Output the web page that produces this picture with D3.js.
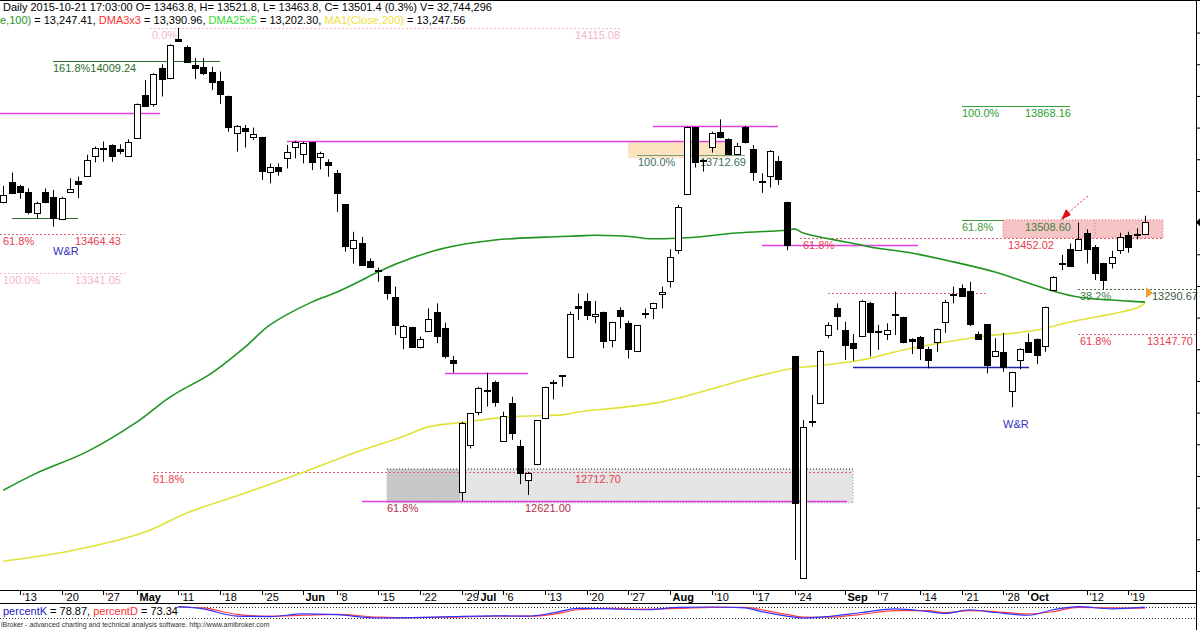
<!DOCTYPE html>
<html><head><meta charset="utf-8">
<script src="https://cdn.jsdelivr.net/npm/d3@7"></script>
<style>body{margin:0;background:#fff}svg{display:block;font-family:"Liberation Sans",Arial,sans-serif}</style>
</head><body>
<svg id="c" width="1200" height="630"></svg>
<script>
// ---------- DATA ----------
const dates = ["04-09","04-10","04-13","04-14","04-15","04-16","04-17","04-20","04-21","04-22","04-23","04-24","04-27","04-28","04-29","04-30",
"05-04","05-05","05-06","05-07","05-08","05-11","05-12","05-13","05-14","05-15","05-18","05-19","05-20","05-21","05-22","05-25","05-26","05-27","05-28","05-29",
"06-01","06-02","06-03","06-05","06-08","06-09","06-10","06-11","06-12","06-15","06-16","06-17","06-18","06-19","06-22","06-23","06-24","06-25","06-26","06-29","06-30",
"07-01","07-02","07-03","07-06","07-07","07-08","07-09","07-10","07-13","07-14","07-15","07-16","07-17","07-20","07-21","07-22","07-23","07-24","07-27","07-28","07-29","07-30","07-31",
"08-03","08-04","08-05","08-06","08-07","08-10","08-11","08-12","08-13","08-14","08-17","08-18","08-19","08-20","08-21","08-24","08-25","08-26","08-27","08-28","08-31",
"09-01","09-02","09-03","09-04","09-07","09-08","09-09","09-10","09-11","09-14","09-15","09-16","09-17","09-18","09-21","09-22","09-23","09-24","09-25","09-28","09-29","09-30",
"10-01","10-02","10-05","10-06","10-07","10-08","10-09","10-12","10-13","10-14","10-15","10-16","10-19","10-20","10-21"];
const open = [13566,13629,13617,13598,13529,13598,13580,13510,13596,13632,13647,13711,13735,13745,13733,13711,13766,13903,13873,13987,13956,14079,14056,13997,13992,13977,13947,13901,13782,13798,13770,13769,13659,13674,13703,13740,
13716,13755,13706,13692,13658,13559,13419,13437,13380,13350,13332,13266,13140,13171,13106,13159,13217,13166,13066,12650,12798,12903,12969,12998,12811,12929,12796,12687,12737,12882,12994,13017,13077,13238,
13253,13205,13219,13129,13224,13182,13096,13212,13229,13274,13316,13413,13590,13801,13697,13738,13787,13763,13717,13803,13731,13630,13647,13694,13566,13079,12377,12871,12931,13145,13229,13161,13121,
13142,13245,13159,13148,13208,13201,13131,13138,13101,13124,13187,13273,13292,13285,13147,13179,13079,13092,12969,13066,13124,13131,13110,13287,13369,13416,13413,13466,13424,13371,13371,13415,13461,13463,13463.8];
const high = [13616,13658,13619,13608,13566,13608,13603,13582,13640,13645,13714,13740,13756,13747,13747,13763,13876,13950,13972,14000,14063,14115,14059,14019,14019,13992,13977,13901,13808,13808,13800,13771,13687,13687,13745,13758,
13755,13755,13724,13700,13666,13559,13471,13455,13387,13358,13332,13298,13177,13171,13140,13229,13245,13184,13079,12871,12898,12982,13026,13001,12903,12950,12814,12713,12876,12982,13003,13019,13219,13276,
13277,13253,13219,13187,13232,13190,13177,13229,13247,13298,13416,13556,13803,13801,13700,13787,13826,13766,13752,13805,13745,13656,13729,13710,13566,13079,12877,12956,13098,13185,13245,13187,13148,
13256,13250,13177,13182,13282,13203,13135,13142,13108,13166,13256,13298,13305,13313,13156,13180,13135,13152,13029,13103,13150,13134,13235,13331,13398,13434,13500,13479,13429,13373,13411,13468,13471,13482,13521.8];
const low = [13561,13590,13575,13526,13514,13561,13487,13508,13594,13577,13645,13690,13692,13692,13716,13710,13764,13867,13866,13898,13953,14071,14006,13953,13966,13919,13875,13787,13724,13737,13761,13635,13624,13648,13671,13703,
13687,13666,13668,13645,13534,13408,13371,13363,13358,13313,13257,13145,13100,13106,13103,13155,13119,13071,13026,12621,12787,12892,12919,12919,12808,12814,12674,12640,12734,12879,12942,12982,13074,13192,
13192,13182,13103,13106,13166,13071,13092,13198,13195,13229,13295,13401,13587,13674,13661,13721,13766,13713,13713,13750,13632,13594,13611,13619,13413,12435,12377,12856,12929,13135,13161,13066,13064,
13140,13077,13098,13129,13145,13119,13085,13066,13040,13092,13152,13245,13266,13173,13129,13024,13077,13029,12917,13037,13089,13053,13092,13285,13350,13361,13411,13371,13319,13289,13355,13401,13405,13447,13463.8];
const close = [13587,13592,13596,13535,13563,13566,13514,13579,13605,13622,13697,13737,13733,13710,13726,13756,13874,13869,13970,13953,14061,14072,14008,13989,13973,13943,13905,13803,13806,13789,13779,13663,13677,13663,13722,13754,
13750,13692,13721,13682,13592,13427,13445,13366,13361,13349,13279,13177,13173,13108,13134,13195,13142,13080,13056,12868,12898,12977,12972,12934,12890,12837,12708,12710,12876,12982,12996,13019,13213,13231,
13208,13212,13127,13185,13205,13101,13177,13214,13247,13282,13392,13548,13803,13690,13695,13784,13769,13716,13743,13753,13661,13628,13726,13638,13429,12614,12856,12873,13096,13177,13205,13113,13103,
13252,13156,13157,13161,13210,13124,13127,13103,13066,13163,13250,13275,13268,13180,13134,13050,13096,13045,13027,13101,13092,13082,13232,13329,13371,13363,13447,13416,13340,13319,13392,13455,13424,13465,13501.4];
// moving averages read at sample bars (bar index 1-based, value)
const emaBars = [1,5,11,17,21,26,30,33,38,41,44,46,50,54,60,66,70,72,77,78,83,89,95,96,97,104,105,110,115,120,124,127,130,136,138];
const emaVals = [12655,12709,12776,12870,12949,13025,13107,13177,13249,13280,13318,13345,13388,13420,13445,13454,13458,13460,13454,13450,13452,13467,13476,13480,13467,13429,13423,13404,13376,13344,13309,13284,13265,13252,13249];
const ma200Bars = [1,9,18,23,29,37,43,49,52,56,62,68,70,80,91,96,98,104,109,117,125,129,137,138];
const ma200Vals = [12431,12463,12523,12583,12637,12712,12772,12825,12855,12869,12887,12893,12902,12934,13012,13041,13046,13066,13098,13135,13161,13186,13230,13246];
// stochastic
const stoBars = [22,25,29,33,37,41,46,50,55,60,64,67,70,74,78,82,86,90,92,95,97,100,104,108,112,114,117,120,124,127,130,134,138];
const percentK = [82,70,30,28,42,38,20,22,28,32,30,48,72,70,65,78,80,75,55,30,20,28,50,70,55,45,65,50,35,65,82,70,78.87];
const percentD = [80,75,40,30,35,40,25,22,25,30,30,40,65,72,68,72,78,78,65,40,25,24,40,60,60,50,60,55,42,55,78,75,73.34];
// axis tick labels
const tickDates = ["04-13","04-20","04-27","05-04","05-11","05-18","05-25","06-01","06-08","06-15","06-22","06-29","07-01","07-06","07-13","07-20","07-27","08-03","08-10","08-17","08-24","09-01","09-07","09-14","09-21","09-28","10-01","10-12","10-19"];
const tickLabels = ["'13","'20","'27","May","'11","'18","'25","Jun","'8","'15","'22","'29","Jul","'6","'13","'20","'27","Aug","'10","'17","'24","Sep","'7","'14","'21","'28","Oct","'12","'19"];
const priceTicks = d3.range(12400, 14200, 100);

// ---------- DRAW ----------
const svg = d3.select("#c");
const bars = dates.map((d,i)=>({d, o:open[i], h:high[i], l:low[i], c:close[i]}));
const x = d3.scalePoint().domain(dates).range([3.3, 1145]);
const y = d3.scaleLinear().domain([12621, 13868.16]).range([501, 106]);
const xb = i => x(dates[i-1]);

const g = svg.append("g");
// --- background annotation shapes (under candles)
g.append("rect").attr("x",387).attr("width",466).attr("y",y(12722)).attr("height",y(12615)-y(12722))
 .attr("fill","#e4e4e4").attr("stroke","#9a9a9a").attr("stroke-dasharray","1,2");
g.append("rect").attr("x",387).attr("width",73).attr("y",y(12722)).attr("height",y(12615)-y(12722)).attr("fill","#c8c8c8");
g.append("line").attr("x1",387).attr("x2",853).attr("y1",y(12722)).attr("y2",y(12722)).attr("stroke","#555").attr("stroke-dasharray","1,2");
g.append("rect").attr("x",628).attr("width",100).attr("y",142).attr("height",16).attr("fill","#fbe3bf");
g.append("rect").attr("x",1003).attr("width",160).attr("y",y(13508.6)).attr("height",y(13452.02)-y(13508.6))
 .attr("fill","#f6c4c4").attr("stroke","#e07070").attr("stroke-dasharray","1,2");
g.append("line").attr("x1",1095).attr("x2",1095).attr("y1",y(13508.6)).attr("y2",y(13452.02)).attr("stroke","#e07070").attr("stroke-dasharray","1,2");

// horizontal level lines
const levels = [
 {p:14115.08,x1:150,x2:620,c:"#f4b6c6",dash:"2,2",w:1},
 {p:14009.24,x1:53,x2:220,c:"#2e6b2e",w:1},
 {p:13846,x1:0,x2:160,c:"#e040e0",w:1.5},
 {p:13514,x1:12,x2:78,c:"#2e6b2e",w:1},
 {p:13464.43,x1:0,x2:125,c:"#e06070",dash:"2,2",w:1},
 {p:13341.05,x1:0,x2:125,c:"#f4b6c6",dash:"2,2",w:1},
 {p:13758,x1:287,x2:728,c:"#e040e0",w:1.5},
 {p:13805,x1:653,x2:778,c:"#e040e0",w:1.5},
 {p:13712.69,x1:637,x2:745,c:"#7a9a7a",w:1},
 {p:13868.16,x1:962,x2:1070,c:"#38a038",w:1},
 {p:13508.60,x1:962,x2:1003,c:"#38a038",w:1},
 {p:13452.02,x1:800,x2:1163,c:"#e06070",dash:"2,2",w:1},
 {p:13429,x1:762,x2:918,c:"#e040e0",w:1.5},
 {p:13279,x1:828,x2:987,c:"#e06070",dash:"2,2",w:1},
 {p:13290.67,x1:1078,x2:1197,c:"#4a6a4a",dash:"2,2",w:1},
 {p:13147.70,x1:1078,x2:1197,c:"#e06070",dash:"2,2",w:1},
 {p:13043,x1:853,x2:1029,c:"#2020b0",w:1.5},
 {p:13026,x1:445,x2:528,c:"#e040e0",w:1.5},
 {p:12712.70,x1:153,x2:853,c:"#e06070",dash:"2,2",w:1},
 {p:12621,x1:362,x2:847,c:"#e040e0",w:1.5}
];
g.selectAll("line.lv").data(levels).join("line").attr("class","lv")
 .attr("x1",d=>d.x1).attr("x2",d=>d.x2).attr("y1",d=>Math.round(y(d.p))+0.5).attr("y2",d=>Math.round(y(d.p))+0.5)
 .attr("stroke",d=>d.c).attr("stroke-width",d=>d.w).attr("stroke-dasharray",d=>d.dash||null);

// annotation texts (drawn under the candles)
const ann = [
 {t:"0.0%",x:152,p:14115.08,c:"#f4b6c6"},{t:"14115.08",x:575,p:14115.08,c:"#f4b6c6"},
 {t:"161.8%14009.24",x:53,p:14009.24,c:"#2e6b2e"},
 {t:"61.8%",x:3,p:13464.43,c:"#e8404f"},{t:"13464.43",x:75,p:13464.43,c:"#e8404f"},
 {t:"100.0%",x:3,p:13341.05,c:"#f4b6c6"},{t:"13341.05",x:75,p:13341.05,c:"#f4b6c6"},
 {t:"100.0%",x:638,p:13712.69,c:"#3f6f5f"},{t:"13712.69",x:700,p:13712.69,c:"#3f6f5f"},
 {t:"100.0%",x:962,p:13868.16,c:"#2e9e2e"},{t:"13868.16",x:1025,p:13868.16,c:"#2e9e2e"},
 {t:"61.8%",x:962,p:13508.60,c:"#3a9a3a"},{t:"13508.60",x:1025,p:13508.60,c:"#3f7f3f"},
 {t:"61.8%",x:803,p:13452.02,c:"#e8404f"},{t:"13452.02",x:1008,p:13452.02,c:"#e8404f"},
 {t:"38.2%",x:1080,p:13290.67,c:"#4a7a4a"},{t:"13290.67",x:1152,p:13290.67,c:"#405a40"},
 {t:"61.8%",x:1080,p:13147.70,c:"#e8404f"},{t:"13147.70",x:1147,p:13147.70,c:"#e8404f"},
 {t:"61.8%",x:153,p:12712.70,c:"#e8404f"},{t:"12712.70",x:575,p:12712.70,c:"#e8404f"},
 {t:"61.8%",x:387,p:12621,c:"#b03048"},{t:"12621.00",x:525,p:12621,c:"#b03048"}
];
g.selectAll("text.an").data(ann).join("text").attr("class","an").attr("x",d=>d.x).attr("y",d=>y(d.p)+11)
 .attr("fill",d=>d.c).attr("font-size",11).text(d=>d.t);
g.append("text").attr("x",53).attr("y",255).attr("fill","#3030c0").attr("font-size",11).text("W&R");
g.append("text").attr("x",1003).attr("y",428).attr("fill","#3030c0").attr("font-size",11).text("W&R");

// moving averages
const lineGen = d3.line().x(d=>xb(d[0])).y(d=>y(d[1])).curve(d3.curveCatmullRom.alpha(0.5));
g.append("path").attr("d",lineGen(ma200Bars.map((b,i)=>[b,ma200Vals[i]]))).attr("fill","none").attr("stroke","#e2e23a").attr("stroke-width",1.6);
g.append("path").attr("d",lineGen(emaBars.map((b,i)=>[b,emaVals[i]]))).attr("fill","none").attr("stroke","#1f951f").attr("stroke-width",1.6);

// candles
const cg = g.append("g");
bars.forEach(b=>{
  const cx = Math.round(x(b.d));
  cg.append("line").attr("x1",cx+0.5).attr("x2",cx+0.5).attr("y1",y(b.h)).attr("y2",y(b.l)).attr("stroke","#000");
  const top = Math.round(y(Math.max(b.o,b.c))), bot = Math.round(y(Math.min(b.o,b.c)));
  const up = b.c >= b.o;
  cg.append("rect").attr("x",cx-2.5).attr("width",6).attr("y",top+0.5).attr("height",Math.max(1,bot-top))
    .attr("fill",up?"#fff":"#000").attr("stroke","#000").attr("stroke-width",1);
});

// red dashed arrow
g.append("line").attr("x1",1088).attr("y1",196).attr("x2",1068).attr("y2",213).attr("stroke","#e03030").attr("stroke-dasharray","2,2");
g.append("path").attr("d","M1061,220 L1066,209 L1071,215 Z").attr("fill","#e01010");
// orange marker
g.append("path").attr("d","M1146,287 L1153,293 L1146,298 Z").attr("fill","#f0a030");

// right axis (labels fall outside the picture)
const ra = svg.append("g").attr("transform","translate(1196,0)")
 .call(d3.axisRight(y).tickValues(priceTicks).tickSize(4).tickFormat(""));
ra.select(".domain").remove();
svg.append("line").attr("x1",1196.5).attr("x2",1196.5).attr("y1",0).attr("y2",630).attr("stroke","#000");
svg.append("line").attr("x1",0).attr("x2",1200).attr("y1",0.5).attr("y2",0.5).attr("stroke","#000");
svg.append("path").attr("d",`M1196,${y(13501.4)} L1200,${y(13501.4)-4} L1200,${y(13501.4)+4} Z`).attr("fill","#000");

// bottom axis
svg.append("line").attr("x1",0).attr("x2",1196).attr("y1",590.5).attr("y2",590.5).attr("stroke","#000");
svg.append("line").attr("x1",0).attr("x2",1196).attr("y1",603.5).attr("y2",603.5).attr("stroke","#000");
const months = new Set(["May","Jun","Jul","Aug","Sep","Oct"]);
tickDates.forEach((d,i)=>{
  const tx = Math.round(x(d))+0.5;
  svg.append("line").attr("x1",tx).attr("x2",tx).attr("y1",591).attr("y2",595).attr("stroke","#000");
  svg.append("text").attr("x",tx+2).attr("y",601).attr("font-size",11)
    .attr("font-weight",months.has(tickLabels[i])?"bold":"normal").attr("fill","#000").text(tickLabels[i]);
});

// stochastic pane
const ys = d3.scaleLinear().domain([20,80]).range([618,607]);
[20,80].forEach(v=>svg.append("line").attr("x1",0).attr("x2",1196).attr("y1",Math.round(ys(v))+0.5).attr("y2",Math.round(ys(v))+0.5)
  .attr("stroke","#333").attr("stroke-dasharray","1,2"));
svg.append("rect").attr("x",0).attr("y",605).attr("width",176).attr("height",12).attr("fill","#fff");
const sl = d3.line().x(d=>xb(d[0])).y(d=>ys(d[1])).curve(d3.curveMonotoneX);
svg.append("path").attr("d",sl(stoBars.map((b,i)=>[b,percentD[i]]))).attr("fill","none").attr("stroke","#ff4040").attr("stroke-width",1.2);
svg.append("path").attr("d",sl(stoBars.map((b,i)=>[b,percentK[i]]))).attr("fill","none").attr("stroke","#3030ff").attr("stroke-width",1.2);
const st = svg.append("text").attr("x",3).attr("y",615).attr("font-size",11);
st.append("tspan").attr("fill","#2020c0").text("percentK");
st.append("tspan").attr("fill","#000").text(" = 78.87, ");
st.append("tspan").attr("fill","#ff3030").text("percentD");
st.append("tspan").attr("fill","#000").text(" = 73.34");
svg.append("text").attr("x",1).attr("y",627).attr("font-size",7).attr("fill","#333")
 .text("iBroker - advanced charting and technical analysis software. http://www.amibroker.com");

// header
svg.append("text").attr("x",3).attr("y",11).attr("font-size",11).attr("fill","#000")
 .text("Daily 2015-10-21 17:03:00 O= 13463.8, H= 13521.8, L= 13463.8, C= 13501.4 (0.3%) V= 32,744,296");
const h2 = svg.append("text").attr("x",0).attr("y",24).attr("font-size",11);
[["e,100)","#1f951f"],[" = 13,247.41, ","#000"],["DMA3x3","#ff3030"],[" = 13,390.96, ","#000"],["DMA25x5","#33dd33"],[" = 13,202.30, ","#000"],["MA1(Close,200)","#f0e040"],[" = 13,247.56","#000"]]
 .forEach(([t,c])=>h2.append("tspan").attr("fill",c).text(t));
</script>
</body></html>
